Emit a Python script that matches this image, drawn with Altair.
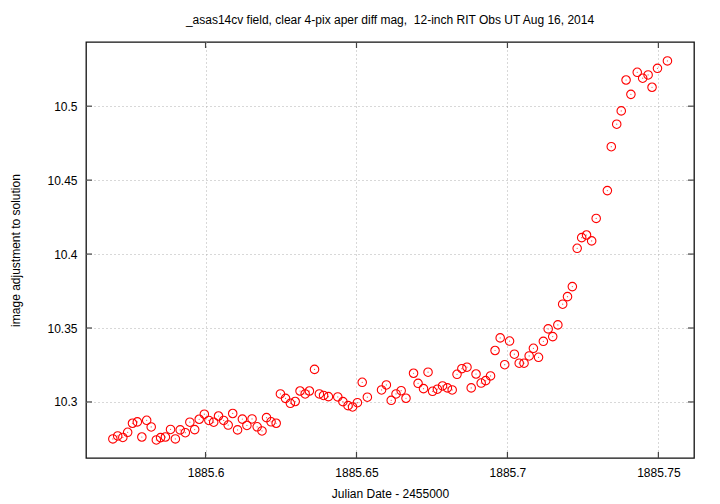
import altair as alt
import pandas as pd

# Julian Date - 2455000
jd = [
    1885.5693, 1885.5709, 1885.5726, 1885.5742, 1885.5758, 1885.5774, 1885.5789, 1885.5805,
    1885.5820, 1885.5837, 1885.5851, 1885.5867, 1885.5884, 1885.5900, 1885.5916, 1885.5933,
    1885.5948, 1885.5964, 1885.5979, 1885.5996, 1885.6011, 1885.6027, 1885.6043, 1885.6060,
    1885.6075, 1885.6090, 1885.6106, 1885.6122, 1885.6137, 1885.6154, 1885.6171, 1885.6187,
    1885.6202, 1885.6217, 1885.6234, 1885.6248, 1885.6265, 1885.6281, 1885.6297, 1885.6313,
    1885.6330, 1885.6344, 1885.6361, 1885.6377, 1885.6391, 1885.6407, 1885.6438, 1885.6455,
    1885.6472, 1885.6487, 1885.6503, 1885.6519, 1885.6536, 1885.6583, 1885.6599, 1885.6615,
    1885.6631, 1885.6648, 1885.6664, 1885.6689, 1885.6704, 1885.6722, 1885.6737, 1885.6752,
    1885.6768, 1885.6785, 1885.6801, 1885.6817, 1885.6833, 1885.6849, 1885.6866, 1885.6880,
    1885.6896, 1885.6913, 1885.6928, 1885.6944, 1885.6959, 1885.6976, 1885.6991, 1885.7007,
    1885.7023, 1885.7039, 1885.7055, 1885.7072, 1885.7086, 1885.7103, 1885.7119, 1885.7135,
    1885.7150, 1885.7167, 1885.7183, 1885.7199, 1885.7215, 1885.7231, 1885.7246, 1885.7262,
    1885.7279, 1885.7294, 1885.7331, 1885.7344, 1885.7362, 1885.7377, 1885.7393, 1885.7409,
    1885.7430, 1885.7448, 1885.7466, 1885.7479, 1885.7497, 1885.7530,
]

# image adjustment to solution (mag)
mag = [
    10.2750, 10.2770, 10.2760, 10.2795, 10.2856, 10.2865, 10.2763, 10.2876,
    10.2831, 10.2743, 10.2759, 10.2763, 10.2814, 10.2750, 10.2811, 10.2792,
    10.2863, 10.2813, 10.2883, 10.2917, 10.2875, 10.2863, 10.2905, 10.2875,
    10.2844, 10.2922, 10.2811, 10.2884, 10.2841, 10.2885, 10.2832, 10.2804,
    10.2894, 10.2866, 10.2856, 10.3054, 10.3024, 10.2991, 10.3003, 10.3074,
    10.3054, 10.3074, 10.3220, 10.3054, 10.3044, 10.3036, 10.3034, 10.3002,
    10.2975, 10.2966, 10.2995, 10.3133, 10.3032, 10.3081, 10.3115, 10.3011,
    10.3054, 10.3076, 10.3025, 10.3194, 10.3126, 10.3090, 10.3201, 10.3072,
    10.3086, 10.3108, 10.3095, 10.3081, 10.3187, 10.3225, 10.3235, 10.3095,
    10.3189, 10.3128, 10.3144, 10.3176, 10.3348, 10.3433, 10.3252, 10.3412,
    10.3323, 10.3262, 10.3262, 10.3311, 10.3363, 10.3302, 10.3410, 10.3494,
    10.3442, 10.3521, 10.3661, 10.3712, 10.3780, 10.4039, 10.4111, 10.4129,
    10.4089, 10.4241, 10.4429, 10.4726, 10.4878, 10.4968, 10.5177, 10.5080,
    10.5229, 10.5189, 10.5211, 10.5128, 10.5256, 10.5306,
]

x_ticks = [1885.6, 1885.65, 1885.7, 1885.75]
y_ticks = [10.3, 10.35, 10.4, 10.45, 10.5]
x_domain = [1885.5604, 1885.7618]
y_domain = [10.2621, 10.5434]

title_text = "_asas14cv field, clear 4-pix aper diff mag, \u00a012-inch RIT Obs UT Aug 16, 2014"
x_title = "Julian Date - 2455000"
y_title = "image adjustment to solution"

W, H = 608, 416
FONT = "Liberation Sans"
TICK_LEN = 6
TICK_COLOR = "#444444"

df = pd.DataFrame({"jd": jd, "mag": mag})
dfx = pd.DataFrame({"jd": x_ticks})
dfy = pd.DataFrame({"mag": y_ticks})

xscale = alt.Scale(domain=x_domain, nice=False, zero=False)
yscale = alt.Scale(domain=y_domain, nice=False, zero=False)
axis_common = dict(
    grid=True, gridColor="#b0b0b0", gridDash=[1, 3], gridWidth=1,
    domain=False, ticks=False,
    labelFont=FONT, labelFontSize=12, labelColor="black",
    titleFont=FONT, titleFontSize=12, titleColor="black", titleFontWeight="normal",
    labelPadding=9, titleBaseline="middle", titleAlign="center",
)
xaxis = alt.Axis(values=x_ticks, format=".2~f", titleX=W / 2, titleY=35, **axis_common)
yaxis = alt.Axis(values=y_ticks, format=".2~f", titleX=-71, titleY=H / 2,
                 titleAngle=270, **axis_common)
XE = alt.X("jd:Q", scale=xscale, title=x_title, axis=xaxis)
YE = alt.Y("mag:Q", scale=yscale, title=y_title, axis=yaxis)

points = alt.Chart(df).mark_point(
    shape="circle", filled=False, color="#ff0000", size=72, strokeWidth=1.1, opacity=1
).encode(x=XE, y=YE)

dots = alt.Chart(df).mark_point(
    shape="circle", filled=True, color="#ff0000", size=1.5, opacity=0.7
).encode(x=XE, y=YE)

xt_bottom = alt.Chart(dfx).mark_rule(color=TICK_COLOR, strokeWidth=1.2).encode(
    x=XE, y=alt.value(H - TICK_LEN), y2=alt.value(H),
)
xt_top = alt.Chart(dfx).mark_rule(color=TICK_COLOR, strokeWidth=1.2).encode(
    x=XE, y=alt.value(0), y2=alt.value(TICK_LEN),
)
yt_left = alt.Chart(dfy).mark_rule(color=TICK_COLOR, strokeWidth=1.2).encode(
    y=YE, x=alt.value(0), x2=alt.value(TICK_LEN),
)
yt_right = alt.Chart(dfy).mark_rule(color=TICK_COLOR, strokeWidth=1.2).encode(
    y=YE, x=alt.value(W - TICK_LEN), x2=alt.value(W),
)

chart = alt.layer(
    points, dots, xt_bottom, xt_top, yt_left, yt_right
).properties(
    width=W, height=H,
    title=alt.TitleParams(title_text, anchor="middle", fontSize=12, font=FONT,
                          fontWeight="normal", color="black", offset=14),
    autosize=alt.AutoSizeParams(type="none"),
    padding={"left": 78, "top": 34, "right": 18, "bottom": 42},
    background="white",
    view=alt.ViewBackground(stroke="#111111", strokeWidth=1.3, fill="white"),
).configure_view(
    stroke="#111111", strokeWidth=1.3
)

chart.save("out.html", embed_options={"renderer": "svg", "actions": False})
